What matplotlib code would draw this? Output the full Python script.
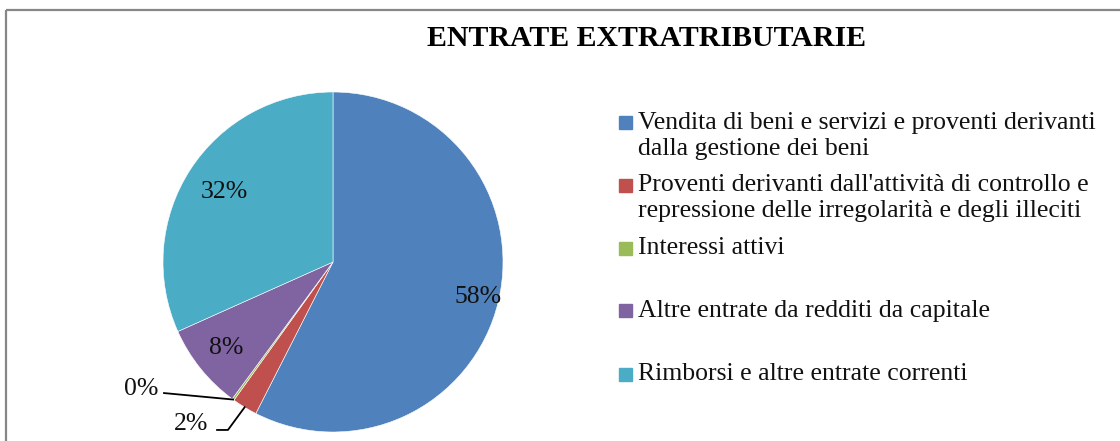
import matplotlib.pyplot as plt
from matplotlib.patches import Rectangle
from matplotlib.lines import Line2D
import numpy as np

labels = [
    "Vendita di beni e servizi e proventi derivanti\ndalla gestione dei beni",
    "Proventi derivanti dall'attività di controllo e\nrepressione delle irregolarità e degli illeciti",
    "Interessi attivi",
    "Altre entrate da redditi da capitale",
    "Rimborsi e altre entrate correnti",
]
values = [57.5, 2.4, 0.2, 8.2, 31.7]
pct_labels = ["58%", "2%", "0%", "8%", "32%"]
colors = ["#4F81BD", "#C0504D", "#9BBB59", "#8064A2", "#4BACC6"]

FONT = "Liberation Serif"
W, H = 1120, 441

fig = plt.figure(figsize=(11.2, 4.41), dpi=100)

# frame (top and left gray lines only are visible)
fig.add_artist(Line2D([6 / W, 6 / W], [0, 1 - 10 / H], transform=fig.transFigure,
                      color="#878787", lw=1.6, solid_capstyle="butt"))
fig.add_artist(Line2D([6 / W, 1.0], [1 - 10 / H, 1 - 10 / H], transform=fig.transFigure,
                      color="#878787", lw=1.6, solid_capstyle="butt"))

cx, cy, r = 333, 262, 170
ax = fig.add_axes([(cx - r) / W, (H - cy - r) / H, 2 * r / W, 2 * r / H])
wedges, _ = ax.pie(values, colors=colors, startangle=90, counterclock=False,
                   radius=1, wedgeprops=dict(edgecolor="white", linewidth=0.4))
ax.set_xlim(-1, 1)
ax.set_ylim(-1, 1)
ax.set_aspect("auto")
ax.axis("off")


def mid(w):
    a = np.deg2rad((w.theta1 + w.theta2) / 2)
    return np.cos(a), np.sin(a)


# inside labels
for i, d in [(0, 0.88), (3, 0.81), (4, 0.76)]:
    x, y = mid(wedges[i])
    ax.text(x * d, y * d, pct_labels[i], ha="center", va="center",
            fontsize=18.5, family=FONT, color="#111111")

# outside labels with leader lines
x, y = mid(wedges[2])
ax.plot([-0.994, x], [-0.771, y], color="black", lw=1.3, clip_on=False)
ax.text(-1.03, -0.745, pct_labels[2], ha="right", va="center",
        fontsize=18.5, family=FONT, color="#111111", clip_on=False)

x, y = mid(wedges[1])
ax.plot([-0.682, -0.618, x], [-0.988, -0.988, y], color="black", lw=1.3, clip_on=False)
ax.text(-0.835, -0.955, pct_labels[1], ha="center", va="center",
        fontsize=18.5, family=FONT, color="#111111", clip_on=False)

fig.text(647 / W, 1 - 39 / H, "ENTRATE EXTRATRIBUTARIE", ha="center", va="center",
         fontsize=21.5, fontweight="bold", family=FONT)

# legend
ys = [122.5, 185, 248.5, 310.5, 374.5]
for lab, col, yy in zip(labels, colors, ys):
    fig.add_artist(Rectangle((619 / W, 1 - (yy + 6.5) / H), 13 / W, 13 / H,
                             transform=fig.transFigure, color=col))
    fig.text(638 / W, 1 - (yy - 11) / H, lab, ha="left", va="top",
             fontsize=18.5, family=FONT, linespacing=1.25, color="#111111")

fig.savefig("out.png", dpi=100)
